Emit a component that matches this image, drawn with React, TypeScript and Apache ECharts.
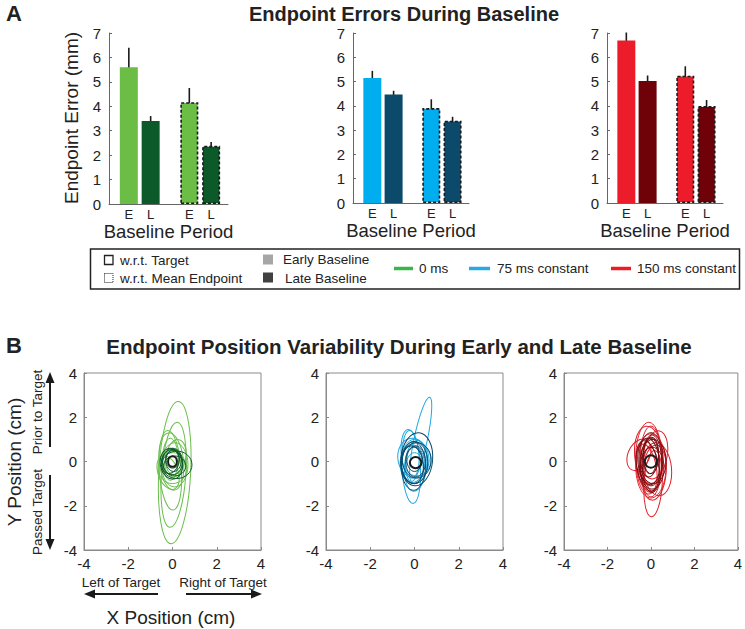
import React, { useEffect, useRef } from "react";
import * as echarts from "echarts";

const FONT = "'Liberation Sans', Arial, Helvetica, sans-serif";
const TXT = "#222";

// ---------- Panel A data ----------
const barLabels = ["E", "L", "E", "L"];
const barPositions = [1, 2.1, 4.05, 5.15];
const barDashed = [false, false, true, true];

const ms0Mean = [5.6, 3.4, 4.17, 2.38];
const ms0Low = [4.77, 3.23, 3.56, 2.21];
const ms0High = [6.4, 3.6, 4.75, 2.54];

const ms75Mean = [5.15, 4.47, 3.91, 3.39];
const ms75Low = [4.62, 4.31, 3.53, 3.14];
const ms75High = [5.44, 4.62, 4.27, 3.55];

const ms150Mean = [6.69, 5.02, 5.24, 3.99];
const ms150Low = [6.36, 4.78, 4.84, 3.76];
const ms150High = [7.02, 5.25, 5.63, 4.24];

const yTicksA = [0, 1, 2, 3, 4, 5, 6, 7];

// ---------- Panel B data: [cx, cy, rx, ry, angleDeg] ----------
const greenEarly = [
  [0.1, -0.5, 0.72, 3.22, -3],
  [0.05, -0.6, 0.55, 2.38, -4],
  [-0.1, -0.4, 0.5, 1.8, 4],
  [-0.05, 0.0, 0.55, 1.3, 6],
  [0.1, -0.15, 0.6, 1.0, 0],
  [-0.2, -0.5, 0.45, 0.8, 20],
  [0.15, 0.2, 0.45, 0.8, -10],
  [0.0, -0.3, 0.65, 0.7, 0],
  [-0.1, 0.1, 0.35, 0.95, 0],
  [0.05, -0.1, 0.4, 0.6, 0],
];
const greenLate = [
  [0.0, 0.0, 0.45, 0.6, 0],
  [0.2, -0.15, 0.68, 0.62, 0],
  [-0.05, -0.1, 0.5, 0.7, 10],
  [0.05, 0.05, 0.35, 0.5, 0],
  [-0.1, 0.0, 0.4, 0.55, -15],
  [0.1, -0.2, 0.5, 0.45, 0],
  [0.0, 0.1, 0.3, 0.4, 0],
];
const blueEarly = [
  [0.28, 1.0, 0.3, 1.95, -12],
  [-0.15, -0.25, 0.42, 1.65, 3],
  [-0.2, 0.35, 0.4, 1.1, 5],
  [0.0, 0.0, 0.6, 1.0, 0],
  [-0.1, -0.1, 0.55, 0.85, 0],
  [0.1, 0.1, 0.65, 0.75, 0],
  [0.05, -0.2, 0.5, 1.15, -5],
  [-0.05, 0.15, 0.7, 0.9, 10],
  [0.0, -0.3, 0.4, 0.7, 0],
];
const blueLate = [
  [0.1, 0.1, 0.72, 1.2, -5],
  [0.0, -0.05, 0.6, 0.95, 0],
  [-0.1, -0.15, 0.5, 0.85, 5],
  [0.05, 0.0, 0.45, 0.7, 0],
  [-0.05, -0.2, 0.55, 1.1, 0],
  [0.1, 0.05, 0.65, 0.8, 0],
  [0.0, 0.1, 0.35, 0.55, 0],
];
const redEarly = [
  [0.1, -1.0, 0.42, 1.5, -3],
  [-0.1, 0.15, 0.6, 1.62, 0],
  [-0.55, 0.3, 0.5, 0.75, -25],
  [0.3, -0.35, 0.65, 1.2, 5],
  [0.0, -0.2, 0.7, 1.45, 0],
  [-0.1, 0.3, 0.65, 1.3, 5],
  [0.15, -0.5, 0.55, 1.25, -5],
  [0.0, 0.0, 0.5, 1.6, 0],
  [-0.2, -0.3, 0.45, 1.1, 10],
  [0.2, 0.3, 0.55, 1.1, -10],
];
const redLate = [
  [0.0, 0.1, 0.55, 1.2, 0],
  [-0.1, 0.0, 0.5, 1.05, 5],
  [0.05, -0.1, 0.45, 1.3, 0],
  [-0.05, 0.2, 0.4, 0.9, -5],
  [0.1, 0.0, 0.6, 1.0, 0],
  [-0.15, -0.2, 0.5, 1.15, 10],
  [0.0, 0.25, 0.35, 0.8, 0],
  [0.05, -0.3, 0.55, 0.95, 0],
  [-0.05, 0.05, 0.3, 0.6, 0],
];
const greenTarget = [[0.0, 0.0, 0.2, 0.24, 0]];
const blueTarget = [[0.05, -0.05, 0.26, 0.25, 0]];
const redTarget = [[0.0, 0.0, 0.28, 0.28, 0]];

const xyTicks = [-4, -2, 0, 2, 4];

const COLORS = {
  green: "#6bbd45",
  greenDark: "#0c5a2a",
  blue: "#00aeef",
  blueDark: "#0b4a6a",
  red: "#ec1c2a",
  redDark: "#6e0208",
  greenLine: "#6abf4b",
  greenLineDark: "#0d5a2a",
  blueLine: "#1ea7df",
  blueLineDark: "#0b4a6a",
  redLine: "#e0202a",
  redLineDark: "#7a0c10",
};

export default function App() {
  const ref = useRef<HTMLDivElement>(null);

  useEffect(() => {
    if (!ref.current) return;
    const chart = echarts.init(ref.current, undefined, { renderer: "svg" });

    const barGrids = [
      { left: 109, top: 33, width: 119, height: 171 },
      { left: 353, top: 33, width: 116, height: 170 },
      { left: 607, top: 33, width: 116, height: 170 },
    ];
    const scGrids = [
      { left: 84, top: 373, width: 177, height: 177 },
      { left: 326, top: 373, width: 177, height: 177 },
      { left: 564, top: 373, width: 177, height: 177 },
    ];
    const barSets = [
      { mean: ms0Mean, lo: ms0Low, hi: ms0High, c: [COLORS.green, COLORS.greenDark] },
      { mean: ms75Mean, lo: ms75Low, hi: ms75High, c: [COLORS.blue, COLORS.blueDark] },
      { mean: ms150Mean, lo: ms150Low, hi: ms150High, c: [COLORS.red, COLORS.redDark] },
    ];
    const ellSets = [
      { early: greenEarly, late: greenLate, target: greenTarget, c: [COLORS.greenLine, COLORS.greenLineDark] },
      { early: blueEarly, late: blueLate, target: blueTarget, c: [COLORS.blueLine, COLORS.blueLineDark] },
      { early: redEarly, late: redLate, target: redTarget, c: [COLORS.redLine, COLORS.redLineDark] },
    ];

    const grid: any[] = [];
    const xAxis: any[] = [];
    const yAxis: any[] = [];
    const series: any[] = [];

    barGrids.forEach((g, i) => {
      grid.push({ ...g, containLabel: false });
      xAxis.push({
        type: "value",
        gridIndex: i,
        min: 0,
        max: 6,
        name: "Baseline Period",
        nameLocation: "middle",
        nameGap: 18,
        nameTextStyle: { fontFamily: FONT, fontSize: 18.5, color: TXT },
        axisLine: { show: true, onZero: false, lineStyle: { color: "#666", width: 1 } },
        axisTick: { show: false },
        splitLine: { show: false },
        axisLabel: {
          customValues: barPositions,
          formatter: (v: number) => {
            const k = barPositions.findIndex((p) => Math.abs(p - v) < 1e-6);
            return k >= 0 ? barLabels[k] : "";
          },
          fontFamily: FONT,
          fontSize: 13,
          color: TXT,
          margin: 4,
        },
      });
      yAxis.push({
        type: "value",
        gridIndex: i,
        min: 0,
        max: 7,
        interval: 1,
        axisLine: { show: true, onZero: false, lineStyle: { color: "#666", width: 1 } },
        axisTick: { show: true, inside: true, length: 3, lineStyle: { color: "#666" } },
        splitLine: { show: false },
        axisLabel: {
          fontFamily: FONT,
          fontSize: 15,
          color: TXT,
          margin: 8,
          formatter: (v: number) => (yTicksA.includes(v) ? String(v) : ""),
        },
      });
      const s = barSets[i];
      series.push({
        type: "bar",
        xAxisIndex: i,
        yAxisIndex: i,
        barWidth: 18,
        data: s.mean.map((m, k) => ({
          value: [barPositions[k], m],
          itemStyle: barDashed[k]
            ? { color: s.c[k % 2], borderColor: "#1a1a1a", borderWidth: 1.6, borderType: [3, 2] }
            : { color: s.c[k % 2], borderWidth: 0 },
        })),
      });
      series.push({
        type: "custom",
        xAxisIndex: i,
        yAxisIndex: i,
        data: s.mean.map((_, k) => [barPositions[k], s.lo[k], s.hi[k]]),
        renderItem: (_p: any, api: any) => {
          const a = api.coord([api.value(0), api.value(1)]);
          const b = api.coord([api.value(0), api.value(2)]);
          return {
            type: "line",
            shape: { x1: a[0], y1: a[1], x2: b[0], y2: b[1] },
            style: { stroke: "#1a1a1a", lineWidth: 1.6 },
          };
        },
      });
    });

    const ellRender = (color: string, lw: number) => (_p: any, api: any) => {
      const c = api.coord([api.value(0), api.value(1)]);
      const s = api.size([api.value(2), api.value(3)]);
      return {
        type: "ellipse",
        x: c[0],
        y: c[1],
        rotation: (api.value(4) * Math.PI) / 180,
        shape: { cx: 0, cy: 0, rx: s[0], ry: s[1] },
        style: { fill: "none", stroke: color, lineWidth: lw },
      };
    };

    scGrids.forEach((g, j) => {
      const gi = 3 + j;
      grid.push({ ...g, show: true, borderColor: "#8a8a8a", borderWidth: 1, backgroundColor: "transparent" });
      const common = {
        type: "value",
        gridIndex: gi,
        min: -4,
        max: 4,
        interval: 2,
        axisLine: { show: true, onZero: false, lineStyle: { color: "#8a8a8a", width: 1 } },
        axisTick: { show: true, inside: true, length: 3, lineStyle: { color: "#8a8a8a" } },
        splitLine: { show: false },
      };
      xAxis.push({
        ...common,
        axisLabel: {
          fontFamily: FONT, fontSize: 15, color: TXT, margin: 6,
          formatter: (v: number) => (xyTicks.includes(v) ? String(v) : ""),
        },
      });
      yAxis.push({
        ...common,
        axisLabel: {
          fontFamily: FONT, fontSize: 15, color: TXT, margin: 7,
          formatter: (v: number) => (xyTicks.includes(v) ? String(v) : ""),
        },
      });
      const e = ellSets[j];
      series.push({
        type: "custom", xAxisIndex: gi, yAxisIndex: gi, data: e.early,
        renderItem: ellRender(e.c[0], 1),
      });
      series.push({
        type: "custom", xAxisIndex: gi, yAxisIndex: gi, data: e.late,
        renderItem: ellRender(e.c[1], 1),
      });
      series.push({
        type: "custom", xAxisIndex: gi, yAxisIndex: gi, data: e.target,
        renderItem: ellRender("#1a1a1a", 2),
      });
    });

    const t = (text: string, x: number, y: number, size: number, opts: any = {}) => ({
      type: "text",
      x,
      y,
      rotation: opts.rotation || 0,
      style: {
        text,
        fontFamily: FONT,
        fontSize: size,
        fontWeight: opts.bold ? "bold" : "normal",
        fill: opts.color || TXT,
        align: opts.align || "center",
        verticalAlign: "middle",
      },
    });
    const ROT = Math.PI / 2;
    const arrowStyle = { stroke: "#1a1a1a", lineWidth: 2 };
    const headStyle = { fill: "#1a1a1a" };
    const LF = 13.5;

    const graphic: any[] = [
      t("A", 14, 13, 22, { bold: true }),
      t("Endpoint Errors During Baseline", 404, 14, 20, { bold: true }),
      t("Endpoint Error (mm)", 71, 118, 19, { rotation: ROT }),
      t("B", 14, 345, 22, { bold: true }),
      t("Endpoint Position Variability During Early and Late Baseline", 399, 346, 20.5, { bold: true }),
      t("Y Position (cm)", 14, 462, 19, { rotation: ROT }),
      t("Prior to Target", 37, 412, 13.5, { rotation: ROT }),
      t("Passed Target", 37, 512, 13.5, { rotation: ROT }),
      t("Left of Target", 121, 582, 13.5),
      t("Right of Target", 223, 582, 13.5),
      t("X Position (cm)", 171, 617, 19),
      // arrows
      { type: "line", shape: { x1: 50, y1: 381, x2: 50, y2: 447 }, style: arrowStyle },
      { type: "polygon", shape: { points: [[50, 372], [45.5, 383], [54.5, 383]] }, style: headStyle },
      { type: "line", shape: { x1: 50, y1: 475, x2: 50, y2: 541 }, style: arrowStyle },
      { type: "polygon", shape: { points: [[50, 550], [45.5, 539], [54.5, 539]] }, style: headStyle },
      { type: "line", shape: { x1: 93, y1: 594, x2: 158, y2: 594 }, style: arrowStyle },
      { type: "polygon", shape: { points: [[84, 594], [95, 589.5], [95, 598.5]] }, style: headStyle },
      { type: "line", shape: { x1: 186, y1: 594, x2: 253, y2: 594 }, style: arrowStyle },
      { type: "polygon", shape: { points: [[262, 594], [251, 589.5], [251, 598.5]] }, style: headStyle },
      // legend box
      { type: "rect", shape: { x: 90.5, y: 249, width: 649, height: 40 }, style: { fill: "none", stroke: "#222", lineWidth: 1.5 } },
      { type: "rect", shape: { x: 104.5, y: 255.5, width: 8.5, height: 9 }, style: { fill: "none", stroke: "#222", lineWidth: 1.3 } },
      { type: "rect", shape: { x: 104.5, y: 273.5, width: 8.5, height: 9 }, style: { fill: "none", stroke: "#222", lineWidth: 1, lineDash: [1, 1] } },
      t("w.r.t. Target", 120, 260, LF, { align: "left" }),
      t("w.r.t. Mean Endpoint", 120, 278, LF, { align: "left" }),
      { type: "rect", shape: { x: 263, y: 254.5, width: 10, height: 10 }, style: { fill: "#a6a6a6" } },
      { type: "rect", shape: { x: 263, y: 272.5, width: 10, height: 10 }, style: { fill: "#404040" } },
      t("Early Baseline", 283, 259, LF, { align: "left" }),
      t("Late Baseline", 285, 278, LF, { align: "left" }),
      { type: "line", shape: { x1: 394, y1: 268.5, x2: 413, y2: 268.5 }, style: { stroke: "#3ab54a", lineWidth: 3.5 } },
      t("0 ms", 419, 268, LF, { align: "left" }),
      { type: "line", shape: { x1: 469, y1: 268.5, x2: 490, y2: 268.5 }, style: { stroke: "#27aae1", lineWidth: 3.5 } },
      t("75 ms constant", 497, 268, LF, { align: "left" }),
      { type: "line", shape: { x1: 611, y1: 268.5, x2: 631, y2: 268.5 }, style: { stroke: "#ed1c24", lineWidth: 3.5 } },
      t("150 ms constant", 637, 268, LF, { align: "left" }),
    ];

    chart.setOption({
      animation: false,
      backgroundColor: "#ffffff",
      grid,
      xAxis,
      yAxis,
      series,
      graphic,
    });

    return () => chart.dispose();
  }, []);

  return (
    <div
      ref={ref}
      style={{ position: "absolute", left: 0, top: 0, width: 745, height: 629 }}
    />
  );
}
